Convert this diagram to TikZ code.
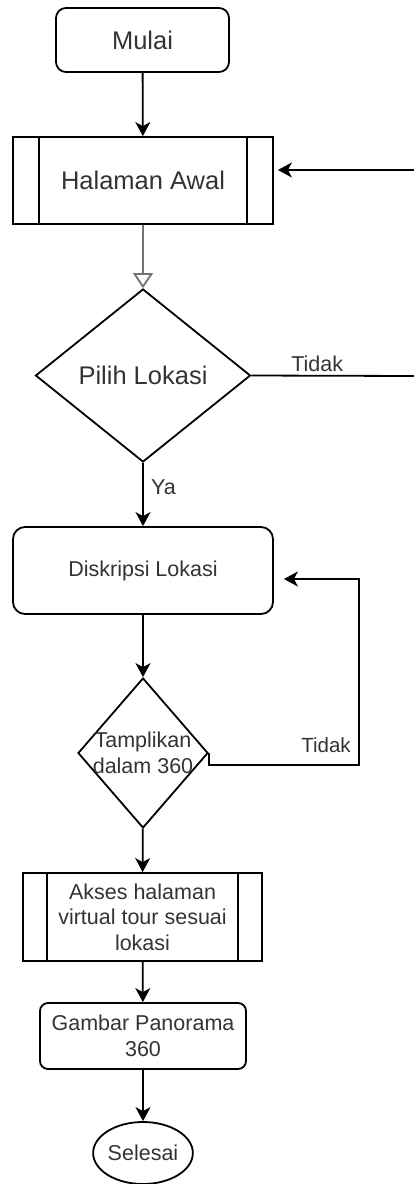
\documentclass[tikz,border=0pt]{standalone}
\usepackage{fontspec}
\setmainfont{Liberation Sans}
\definecolor{flowgray}{RGB}{51, 51, 51}
\usetikzlibrary{shapes, arrows.meta, positioning, calc}

\begin{document}
\begin{tikzpicture}[x=1pt, y=-1pt, line width=1.8pt,
    bigtext/.style={font=\fontsize{25.5}{30}\selectfont, text=flowgray},
    smalltext/.style={font=\fontsize{21.5}{25.5}\selectfont, text=flowgray},
    terminal/.style={draw, rounded corners=#1, align=center, inner sep=0pt},
    terminal/.default=10pt,
    subproc/.style={draw, align=center, inner sep=0pt, path picture={
        \draw ([xshift=#1]path picture bounding box.north west) -- ([xshift=#1]path picture bounding box.south west);
        \draw ([xshift=-#1]path picture bounding box.north east) -- ([xshift=-#1]path picture bounding box.south east);}},
    subproc/.default=25pt,
    decision/.style={draw, diamond, inner sep=0pt, align=center},
    arr/.style={-{Stealth[length=14pt, width=15pt, inset=4pt]}}]
  \useasboundingbox (0,0) rectangle (414,1184);

  % boxes
  \node[terminal, bigtext, minimum width=173pt, minimum height=64pt] (mulai) at (142.5,40) {Mulai};
  \node[subproc=26pt, bigtext, minimum width=260pt, minimum height=87pt] (halaman) at (143,180.5) {Halaman Awal};
  \node[decision, bigtext, minimum width=215pt, minimum height=173pt] (pilih) at (143,375.5) {Pilih Lokasi};
  \node[terminal=12pt, smalltext, minimum width=260pt, minimum height=87pt] (diskripsi) at (143,570.5) {Diskripsi Lokasi};
  \node[decision, minimum width=130pt, minimum height=150pt,
    label={[smalltext, align=center]center:Tamplikan\\dalam 360}] (tampil) at (143,753) {};
  \node[subproc=24pt, smalltext, minimum width=239pt, minimum height=88pt] (akses) at (142.5,917) {Akses halaman\\virtual tour sesuai\\lokasi};
  \node[terminal=8pt, smalltext, minimum width=206pt, minimum height=66pt] (gambar) at (143,1036) {Gambar Panorama\\360};
  \node[draw, ellipse, smalltext, inner sep=0pt, minimum width=88pt, minimum height=62pt] (selesai) at (143,1153) {Selesai};

  % free ends on the right edge
  \coordinate (edgeR) at (416,376);
  \coordinate (edgeL) at (416,170);
  \coordinate (loopc) at (359,579);

  % connectors
  \draw[arr] (mulai) -- (halaman);
  \draw[draw=black!55, -{Triangle[open, length=15pt, width=20pt]}] (halaman) -- (pilih);
  \draw (pilih.east) -- (edgeR) node[pos=0.4, above, smalltext] (tidakA) {Tidak};
  \draw[arr, shorten >=4pt] (edgeL) -- (halaman.east |- edgeL);
  \draw[arr] (pilih) -- (diskripsi) node[pos=0.38, right=4pt, smalltext] (ya) {Ya};
  \draw[arr] (diskripsi) -- (tampil);
  \draw[arr, shorten >=10pt] (tampil.east) -- ++(0,12) -| (loopc) -- (diskripsi.east |- loopc);
  \node[smalltext, font=\fontsize{20.5}{24}\selectfont] (tidakB) at (326,745) {Tidak};
  \draw[arr] (tampil) -- (akses);
  \draw[arr] (akses) -- (gambar);
  \draw[arr] (gambar) -- (selesai);
\end{tikzpicture}
\end{document}
